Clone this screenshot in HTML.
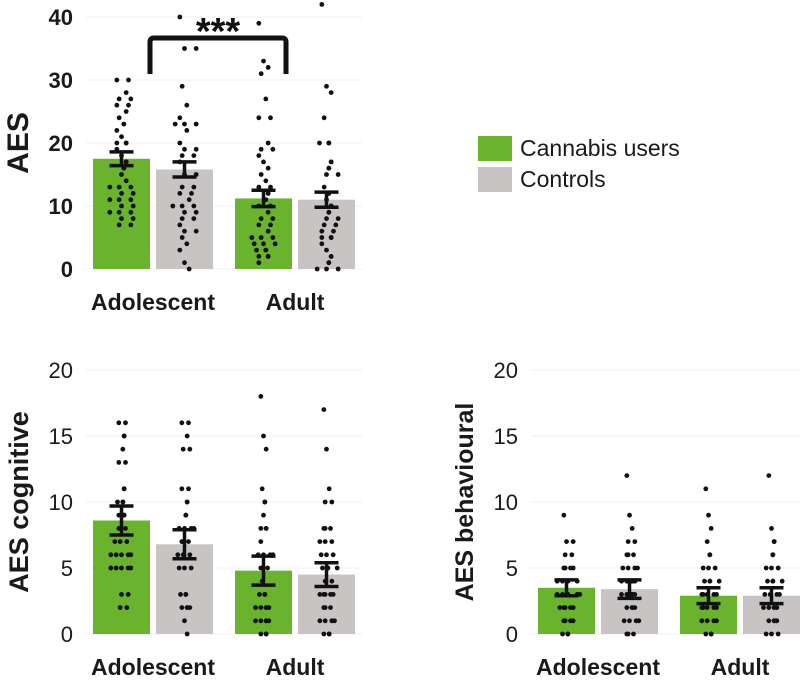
<!DOCTYPE html>
<html><head><meta charset="utf-8"><style>
body{margin:0;background:#fff;width:800px;height:676px;overflow:hidden}
svg{font-family:"Liberation Sans",Arial,sans-serif}
</style></head><body>
<svg id="c" width="800" height="676"></svg>
<script>
const groups=["Adolescent","Adult"];
const topMeans=[17.5,15.8,11.2,11.0];
const topErr=[1.1,1.2,1.3,1.2];
const cogMeans=[8.6,6.8,4.8,4.5];
const cogErr=[1.1,1.1,1.1,0.9];
const behMeans=[3.5,3.4,2.9,2.9];
const behErr=[0.6,0.7,0.6,0.6];
const topTicks=[0,10,20,30,40];
const botTicks=[0,5,10,15,20];
const topDots=[
[30,30,28,27,27,26,26,25,24,23,22,21,20,20,20,19,18,17,17,16,16,15,14,13,13,13,12,12,11,11,11,10,10,9,9,9,8,8,7,7],
[40,35,35,29,26,24,23,23,23,22,20,19,19,18,18,17,15,15,13,13,12,12,11,10,10,10,9,9,8,8,7,6,6,5,4,3,1,0],
[39,33,32,31,27,24,24,20,19,19,18,17,16,15,14,13,13,12,12,11,10,10,9,8,8,7,7,6,5,5,5,4,4,4,3,3,3,2,2,2,1],
[42,29,28,24,20,20,20,17,17,16,16,15,15,13,12,12,11,10,10,9,9,8,8,7,7,6,6,5,5,5,4,3,2,2,1,1,0,0,0]];
const cogDots=[
[16,16,15,15,14,13,13,11,11,10,10,10,9,9,9,8,8,8,7,7,7,6,6,6,6,6,5,5,5,5,5,3,3,2,2],
[16,16,15,14,14,11,11,10,10,9,9,8,8,8,8,7,7,7,6,6,6,5,5,5,3,3,3,2,2,2,2,1,0],
[18,15,14,11,10,10,9,8,8,8,7,6,6,6,6,5,5,5,4,3,3,3,2,2,2,2,2,1,1,1,1,1,0,0,0],
[17,14,11,10,10,8,8,8,7,7,7,6,6,6,5,5,5,5,4,4,3,3,3,3,3,2,2,2,1,1,1,1,0,0,0]];
const behDots=[
[9,7,7,6,6,5,5,5,5,4,4,4,4,4,3,3,3,3,3,3,2,2,2,2,2,1,1,1,1,0,0,0],
[12,9,8,7,7,6,6,6,5,5,5,5,4,4,4,4,4,3,3,3,3,3,2,2,2,2,1,1,1,1,0,0,0],
[11,9,8,7,6,6,5,5,5,4,4,4,4,3,3,3,3,3,2,2,2,2,2,1,1,1,1,0,0,0],
[12,8,7,7,6,6,5,5,5,4,4,4,4,3,3,3,3,2,2,2,2,2,1,1,1,1,0,0,0]];
const seriesNames=["Cannabis users","Controls"];
const colors=["#6ab42d","#c8c4c4"];
const NS="http://www.w3.org/2000/svg";
const svg=document.getElementById('c');
function mk(t,a,p){const e=document.createElementNS(NS,t);for(const k in a)e.setAttribute(k,a[k]);(p||svg).appendChild(e);return e;}
function panel(id,x0,y0,y1,maxV,ticks,means,errs,dots,title,bold,spread,titleSize){
  const g=mk('g',{});
  
  
  const ys=v=>y0-(v/maxV)*(y0-y1);
  const barX=[x0,x0+63,x0+142,x0+205];const bw=57;
  ticks.forEach(t=>{
    const l=mk('line',{x1:x0-8,x2:x0+270,y1:ys(t),y2:ys(t),stroke:'#f2f2f2','stroke-width':1},g);
    
    const tx=mk('text',{x:x0-20,y:ys(t)+8,'text-anchor':'end','font-size':22,'font-weight':bold?'bold':'normal',fill:'#1a1a1a'},g);
    tx.textContent=t;
    
  });
  means.forEach((m,i)=>{
    const r=mk('rect',{x:barX[i],y:ys(m),width:bw,height:ys(0)-ys(m),fill:colors[i%2]},g);
    
    
  });
  dots.forEach((arr,i)=>{
    const cx=barX[i]+bw/2;
    const cnt={};
    arr.forEach((v,j)=>{
      const k=cnt[v]||0;cnt[v]=k+1;
      const off=(k%2?1:-1)*Math.ceil(k/2)*spread+((j*7)%5-2)*(spread/3);
      const c=mk('circle',{cx:cx+off,cy:ys(v),r:2.4,fill:'#111'},g);
      
    });
  });
  means.forEach((m,i)=>{
    const cx=barX[i]+bw/2;const a=ys(m+errs[i]),b=ys(m-errs[i]);
    const e=mk('path',{d:`M${cx-12},${a}H${cx+12}M${cx},${a}V${b}M${cx-12},${b}H${cx+12}`,stroke:'#111','stroke-width':3.5,fill:'none'},g);
    
  });
  groups.forEach((gn,i)=>{
    const t=mk('text',{x:barX[i*2]+bw+3,y:y0+41,'text-anchor':'middle','font-size':23,'font-weight':'bold',fill:'#1a1a1a'},g);
    t.textContent=gn;
    
  });
  const ty=(y0+y1)/2;const tx=x0-65;
  const tt=mk('text',{x:tx,y:ty,transform:`rotate(-90 ${tx} ${ty})`,'text-anchor':'middle','font-size':titleSize,'font-weight':'bold',fill:'#1a1a1a'},g);
  tt.textContent=title;
  
}
panel('aes',93,269,17,40,topTicks,topMeans,topErr,topDots,'AES',true,7,30);
panel('cognitive',93,634,370,20,botTicks,cogMeans,cogErr,cogDots,'AES cognitive',false,4,27);
panel('behavioural',538,634,370,20,botTicks,behMeans,behErr,behDots,'AES behavioural',false,4,25);
const br=mk('path',{d:'M150,74V42Q150,38 154,38H282Q286,38 286,42V74',stroke:'#111','stroke-width':5,fill:'none'});

const st=mk('text',{x:218,y:44,'text-anchor':'middle','font-size':38,'font-weight':'bold',fill:'#111'});
st.textContent='***';

seriesNames.forEach((n,i)=>{
  const y=136+i*31;
  const r=mk('rect',{x:478,y:y,width:34,height:25,fill:colors[i]});
  
  const t=mk('text',{x:520,y:y+20,'font-size':23,fill:'#1a1a1a'});
  t.textContent=n;
  
});
</script>
</body></html>
